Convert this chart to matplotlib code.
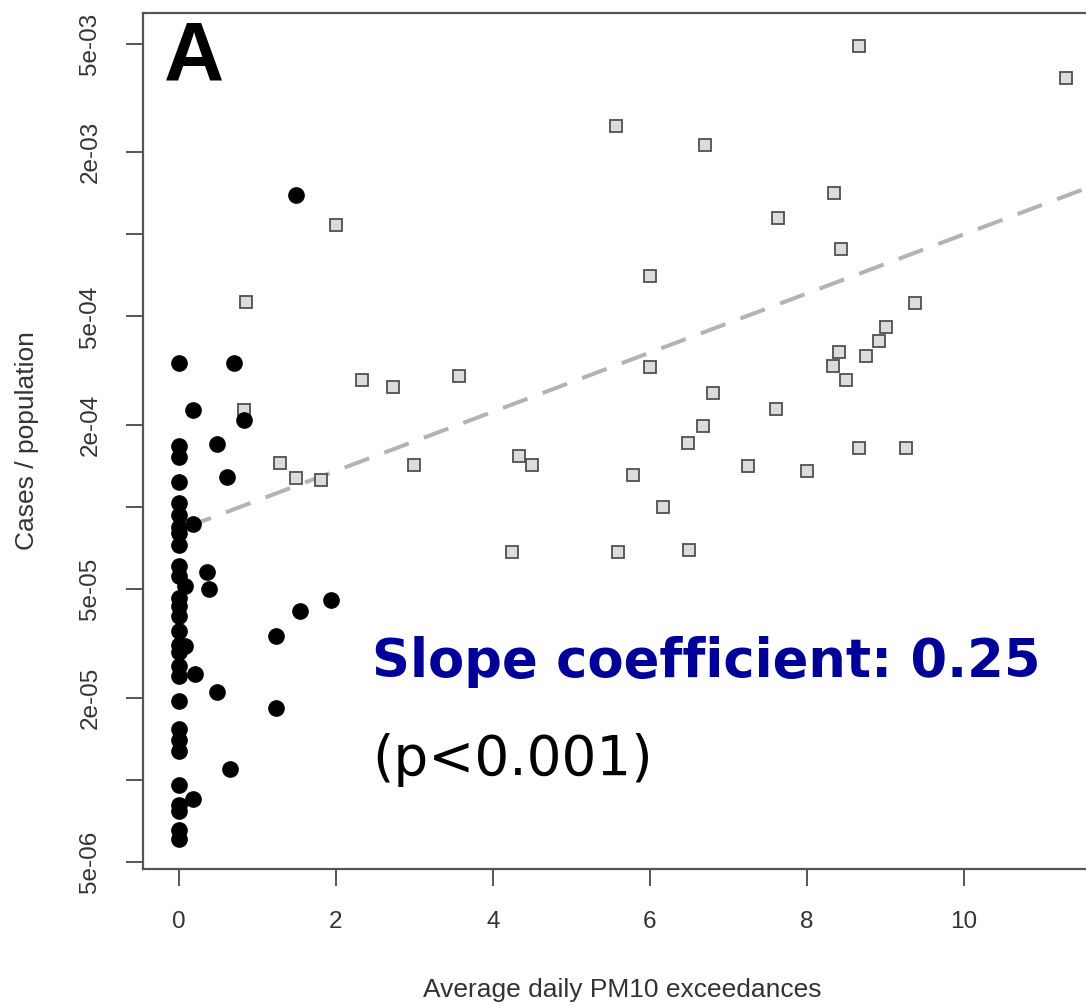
import matplotlib
matplotlib.use('Agg')
import matplotlib.pyplot as plt
import numpy as np

# Filled circles
circlesX = [1.50, 0, 0.70, 0.19, 0.83, 0.49, 0, 0, 0.62, 0,
            0, 0, 0.19, 0, 0, 0, 0, 0, 0.08, 0.36,
            0.39, 0, 0, 0, 0, 0, 0.08, 0, 0, 0,
            0.21, 0.49, 0, 0, 0, 0, 0.65, 0, 0, 0,
            0.19, 0, 0, 1.94, 1.55, 1.24, 1.24]
circlesY = [1.39e-3, 3.37e-4, 3.37e-4, 2.26e-4, 2.08e-4, 1.70e-4, 1.67e-4, 1.52e-4, 1.29e-4, 1.23e-4,
            1.03e-4, 9.37e-5, 8.69e-5, 8.47e-5, 8.03e-5, 7.27e-5, 6.05e-5, 5.57e-5, 5.12e-5, 5.78e-5,
            5.02e-5, 4.64e-5, 4.32e-5, 3.97e-5, 3.50e-5, 3.13e-5, 3.08e-5, 2.95e-5, 2.60e-5, 2.39e-5,
            2.43e-5, 2.09e-5, 1.94e-5, 1.53e-5, 1.40e-5, 1.27e-5, 1.09e-5, 9.59e-6, 8.10e-6, 7.65e-6,
            8.50e-6, 6.56e-6, 6.03e-6, 4.55e-5, 4.14e-5, 3.37e-5, 1.83e-5]

# Open squares
squaresX = [0.86, 0.83, 2.00, 1.29, 1.49, 1.82, 2.33, 2.73, 3.00, 3.57,
            4.33, 4.50, 4.25, 5.57, 5.60, 5.78, 6.00, 6.00, 6.17, 6.49,
            6.50, 6.67, 6.70, 6.80, 7.25, 7.60, 7.63, 8.00, 8.33, 8.34,
            8.41, 8.43, 8.50, 8.66, 8.66, 8.75, 8.91, 9.01, 9.26, 9.38,
            11.29]
squaresY = [5.63e-4, 2.26e-4, 1.08e-3, 1.45e-4, 1.28e-4, 1.26e-4, 2.93e-4, 2.75e-4, 1.43e-4, 3.03e-4,
            1.54e-4, 1.42e-4, 6.81e-5, 2.49e-3, 6.81e-5, 1.31e-4, 7.05e-4, 3.25e-4, 9.96e-5, 1.71e-4,
            6.98e-5, 1.99e-4, 2.13e-3, 2.62e-4, 1.41e-4, 2.29e-4, 1.15e-3, 1.36e-4, 3.28e-4, 1.42e-3,
            3.70e-4, 8.83e-4, 2.93e-4, 4.93e-3, 1.65e-4, 3.57e-4, 4.05e-4, 4.56e-4, 1.65e-4, 5.60e-4,
            3.76e-3]

# Fitted line (log scale), slope 0.25 on natural log
slopeCoef = 0.25
interceptLog10 = -4.085
fitRange = [0.1, 11.74]

yTicks = [5e-6, 1e-5, 2e-5, 5e-5, 1e-4, 2e-4, 5e-4, 1e-3, 2e-3, 5e-3]
yTickLabels = ['5e-06', '', '2e-05', '5e-05', '', '2e-04', '5e-04', '', '2e-03', '5e-03']
xTicks = [0, 2, 4, 6, 8, 10]

plt.rcParams['font.family'] = ['Liberation Sans', 'DejaVu Sans']

fig = plt.figure(figsize=(10.86, 10.06), dpi=100)
ax = fig.add_axes([0.1317, 0.1362, 0.882, 0.8509])
ax.set_yscale('log')
ax.set_xlim(-0.4516, 11.74)
ax.set_ylim(4.70e-6, 6.49e-3)

fitX = np.array(fitRange)
fitY = 10 ** (interceptLog10 + slopeCoef / np.log(10) * fitX)
ax.plot(fitX, fitY, color='#b3b3b3', linewidth=2.9, dashes=(6.5, 4), zorder=1)

ax.plot(circlesX, circlesY, linestyle='none', marker='o', markersize=11,
        color='black', zorder=3)
ax.plot(squaresX, squaresY, linestyle='none', marker='s', markersize=8.2,
        markerfacecolor='#dcdcdc', markeredgecolor='#505050', markeredgewidth=1.3, zorder=2)

ax.set_yticks(yTicks)
ax.set_yticklabels(yTickLabels, rotation=90, va='center')
ax.minorticks_off()
ax.set_xticks(xTicks)
ax.set_xticklabels([str(t) for t in xTicks])
ax.tick_params(axis='both', length=12, width=1.4, color='#555555', pad=18,
               labelsize=17.5, labelcolor='#333333')
for spine in ax.spines.values():
  spine.set_color('#555555')
  spine.set_linewidth(1.6)

fig.text(27 / 1086, 1 - 441 / 1006, 'Cases / population', rotation=90,
         ha='center', va='center', fontsize=19, color='#333333')
fig.text(622 / 1086, 16 / 1006, 'Average daily PM10 exceedances',
         ha='center', va='center', fontsize=19, color='#333333')

fig.text(164 / 1086, 1 - 81 / 1006, 'A', fontsize=60, fontweight='bold',
         ha='left', va='baseline', color='black')
fig.text(372 / 1086, 1 - 677 / 1006, 'Slope coefficient: 0.25', family='DejaVu Sans',
         fontsize=38, fontweight='bold', color='#000099', ha='left', va='baseline')
fig.text(372 / 1086, 1 - 775 / 1006, '(p<0.001)', family='DejaVu Sans',
         fontsize=39.5, color='black', ha='left', va='baseline')

plt.savefig('out.png', dpi=100)
